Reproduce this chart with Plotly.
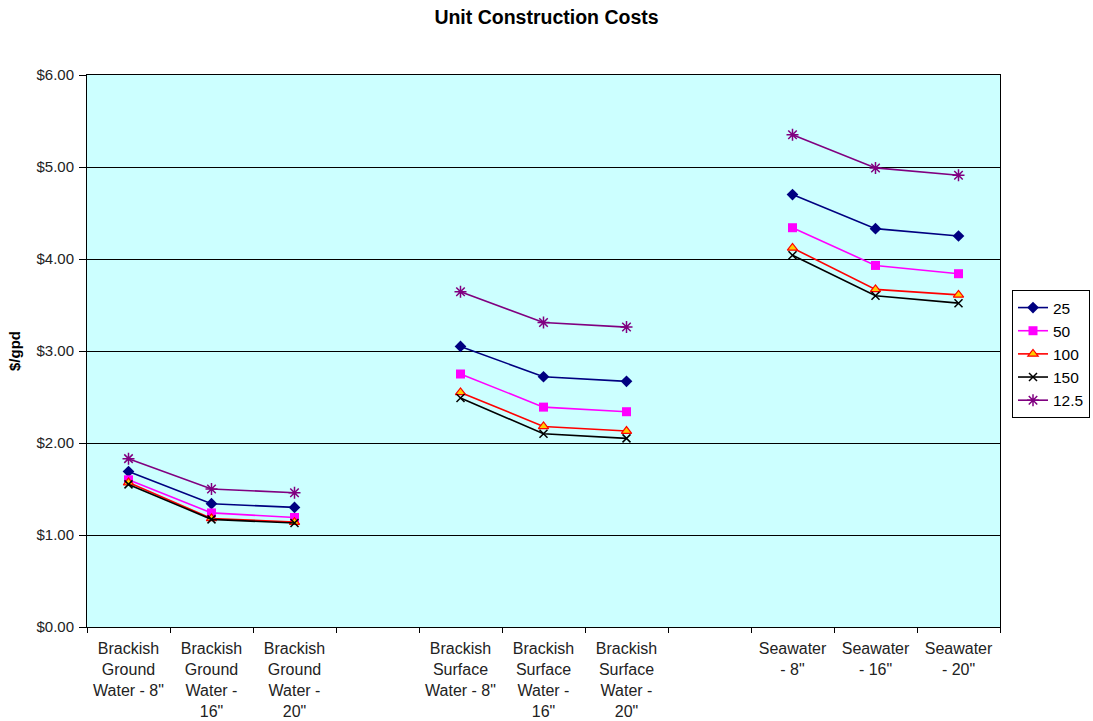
import plotly.graph_objects as go

# Category axis: three groups of three pipe sizes, with empty spacer slots between groups
categories = [
    'Brackish<br>Ground<br>Water - 8"',
    'Brackish<br>Ground<br>Water -<br>16"',
    'Brackish<br>Ground<br>Water -<br>20"',
    ' ',
    'Brackish<br>Surface<br>Water - 8"',
    'Brackish<br>Surface<br>Water -<br>16"',
    'Brackish<br>Surface<br>Water -<br>20"',
    '  ',
    'Seawater<br>- 8"',
    'Seawater<br>- 16"',
    'Seawater<br>- 20"',
]

# Unit costs ($/gpd) per plant capacity; None marks the spacer slots
cost_25 = [1.69, 1.34, 1.30, None, 3.05, 2.72, 2.67, None, 4.70, 4.33, 4.25]
cost_50 = [1.60, 1.24, 1.19, None, 2.75, 2.39, 2.34, None, 4.34, 3.93, 3.84]
cost_100 = [1.57, 1.18, 1.14, None, 2.55, 2.18, 2.13, None, 4.12, 3.67, 3.61]
cost_150 = [1.55, 1.17, 1.13, None, 2.49, 2.10, 2.05, None, 4.04, 3.60, 3.52]
cost_12_5 = [1.83, 1.50, 1.46, None, 3.645, 3.31, 3.26, None, 5.35, 4.99, 4.91]

series = [
    ("25", cost_25, dict(color="#000080", width=1.6),
     dict(symbol="diamond", size=9, color="#000080")),
    ("50", cost_50, dict(color="#FF00FF", width=1.6),
     dict(symbol="square", size=9, color="#FF00FF")),
    ("100", cost_100, dict(color="#FF0000", width=1.6),
     dict(symbol="triangle-up", size=9, color="#FFCC00",
          line=dict(color="#FF0000", width=1.2))),
    ("150", cost_150, dict(color="#000000", width=1.6),
     dict(symbol="x-thin", size=8, color="#000000",
          line=dict(color="#000000", width=1.5))),
    ("12.5", cost_12_5, dict(color="#800080", width=1.6),
     dict(symbol="asterisk", size=10, color="#800080",
          line=dict(color="#800080", width=1.5))),
]

fig = go.Figure()
for name, vals, line, marker in series:
    fig.add_trace(go.Scatter(
        x=categories, y=vals, name=name, mode="lines+markers",
        line=line, marker=marker, connectgaps=False,
    ))

font_family = "Liberation Sans, Arial, sans-serif"

fig.update_layout(
    width=1093, height=721,
    margin=dict(l=87, r=93, t=75, b=94),
    paper_bgcolor="white",
    plot_bgcolor="#CCFFFF",
    font=dict(family=font_family, size=15, color="#000000"),
    title=dict(
        text="<b>Unit Construction Costs</b>",
        x=0.5, xanchor="center", y=1 - 17 / 721, yanchor="middle",
        font=dict(size=19.5, family=font_family),
    ),
    showlegend=True,
    legend=dict(
        xref="container", yref="container",
        x=1012 / 1093, xanchor="left", y=1 - 290 / 721, yanchor="top",
        bgcolor="white", bordercolor="#000000", borderwidth=1,
        font=dict(size=15.5, family=font_family),
        tracegroupgap=0, itemwidth=30,
    ),
)

fig.update_xaxes(
    type="category", automargin=False,
    categoryorder="array", categoryarray=categories,
    tickson="boundaries", ticks="outside", ticklen=5, tickcolor="#000000",
    showgrid=False, showline=True, linecolor="#000000", linewidth=1, mirror=True,
    tickfont=dict(size=16, color="#222222"),
    ticklabelstandoff=7,
    range=[-0.5, len(categories) - 0.5],
)

fig.update_yaxes(
    range=[0, 6], dtick=1, tickformat="$.2f", automargin=False,
    ticks="outside", ticklen=7, tickcolor="#000000",
    showgrid=True, gridcolor="#000000", gridwidth=1,
    showline=True, linecolor="#000000", linewidth=1, mirror=True,
    zeroline=False,
    tickfont=dict(size=15, color="#222222"),
    ticklabelstandoff=2,
    title=dict(text="<b>$/gpd</b>", font=dict(size=15), standoff=12),
)

fig.write_html("out.html")
